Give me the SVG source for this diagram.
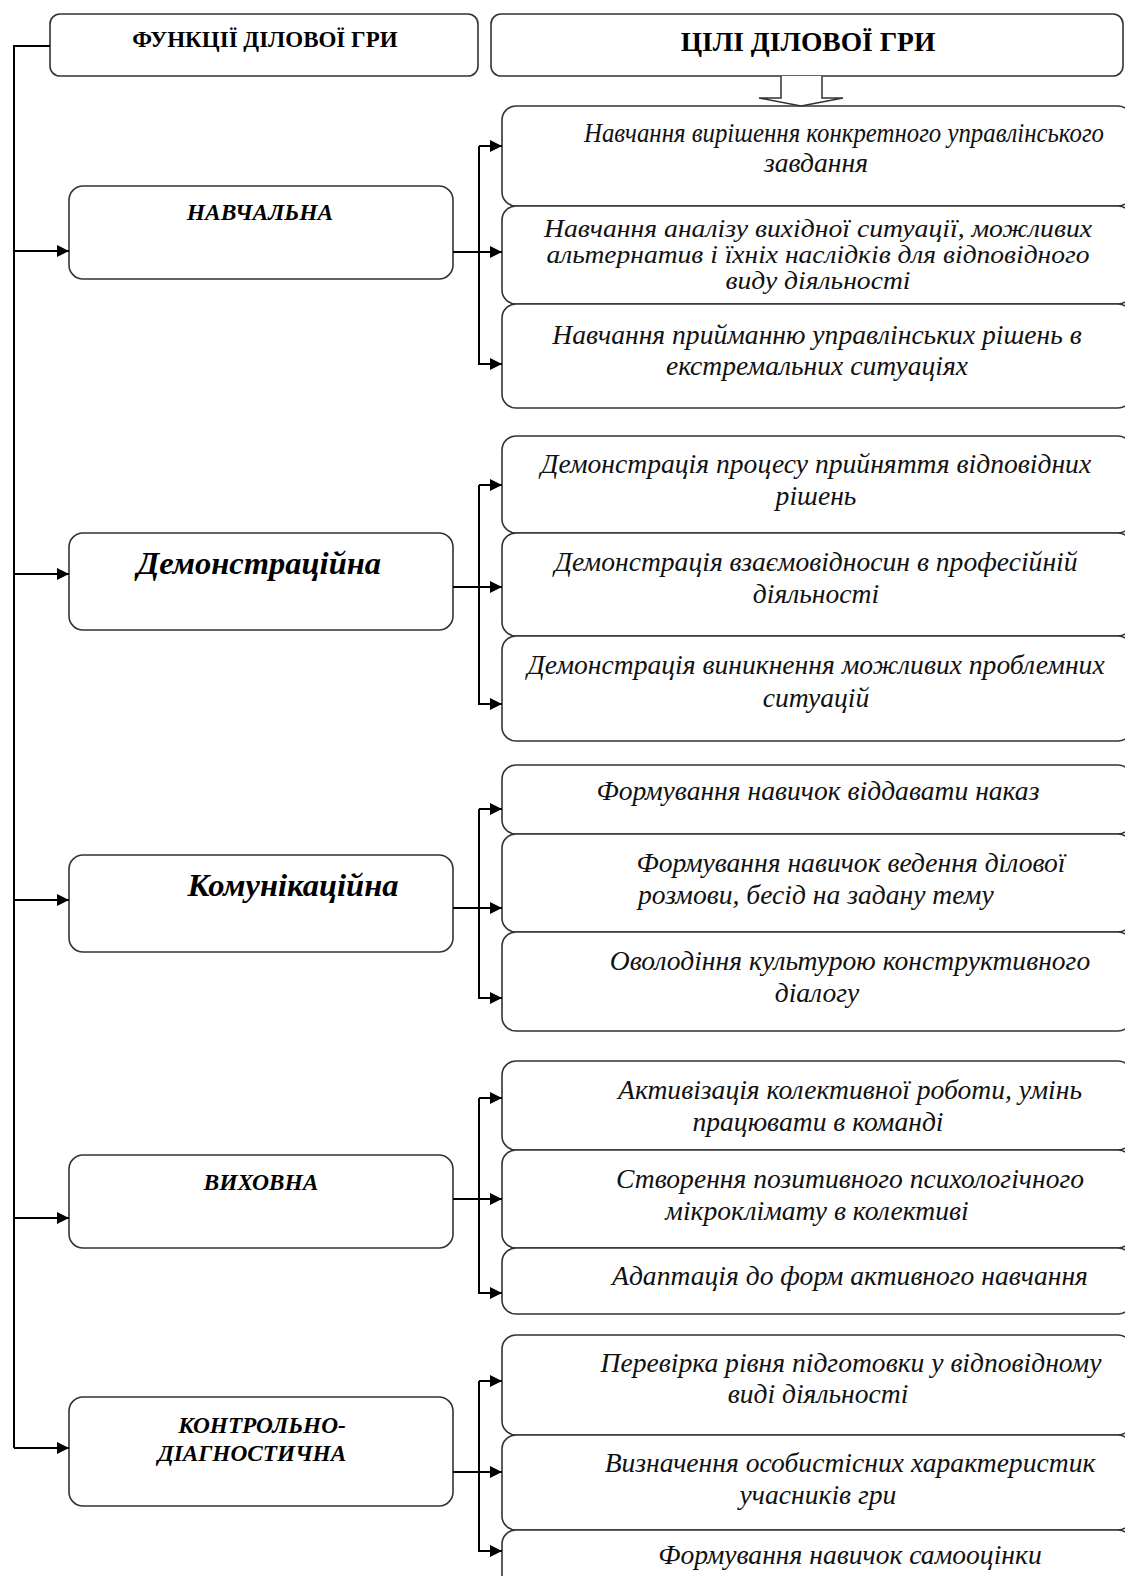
<svg xmlns="http://www.w3.org/2000/svg" width="1125" height="1576" viewBox="0 0 1125 1576">
<style>
.box{fill:#fff;stroke:#333;stroke-width:1.6}
.con{fill:none;stroke:#000;stroke-width:2}
.t{font-family:"Liberation Serif","Times New Roman",serif;font-style:italic;font-size:27.6px;fill:#111;text-anchor:middle}
.tl{text-anchor:start}
.s{font-size:25.5px}
.h{font-family:"Liberation Serif","Times New Roman",serif;font-weight:bold;fill:#000;text-anchor:middle}
.f{font-family:"Liberation Serif","Times New Roman",serif;font-weight:bold;font-style:italic;fill:#000;text-anchor:middle}
</style>
<defs>
<marker id="ah" viewBox="0 0 12 12" refX="12" refY="6" markerWidth="12" markerHeight="12" markerUnits="userSpaceOnUse" orient="auto">
<path d="M0,0 L12,6 L0,12 Z" fill="#000"/>
</marker>
</defs>
<rect width="1125" height="1576" fill="#fff"/>

<g id="header-functions">
<rect class="box" x="50" y="14" width="428" height="62" rx="10"/>
<text class="h" x="265" y="47" font-size="23">ФУНКЦІЇ ДІЛОВОЇ ГРИ</text>
</g>
<g id="header-goals">
<rect class="box" x="491" y="14" width="632" height="62" rx="10"/>
<text class="h" x="808" y="51" font-size="27.5">ЦІЛІ ДІЛОВОЇ ГРИ</text>
</g>

<g id="f1">
<rect class="box" x="69" y="186" width="384" height="93" rx="14"/>
<text class="f" x="260" y="220" font-size="23.5">НАВЧАЛЬНА</text>
</g>
<g id="f2">
<rect class="box" x="69" y="533" width="384" height="97" rx="14"/>
<text class="f" x="259" y="574" font-size="32.5">Демонстраційна</text>
</g>
<g id="f3">
<rect class="box" x="69" y="855" width="384" height="97" rx="14"/>
<text class="f" x="293" y="896" font-size="32.5">Комунікаційна</text>
</g>
<g id="f4">
<rect class="box" x="69" y="1155" width="384" height="93" rx="14"/>
<text class="f" x="261" y="1190" font-size="23.5">ВИХОВНА</text>
</g>
<g id="f5">
<rect class="box" x="69" y="1397" width="384" height="109" rx="14"/>
<text class="f" x="262" y="1433" font-size="23.3">КОНТРОЛЬНО-</text>
<text class="f" x="252" y="1461" font-size="23.3">ДІАГНОСТИЧНА</text>
</g>

<g id="g1a"><rect class="box" x="502" y="106" width="630" height="100" rx="14"/>
<text class="t" x="844" y="142" font-size="25.5" textLength="520" lengthAdjust="spacingAndGlyphs">Навчання вирішення конкретного управлінського</text>
<text class="t" x="816" y="172">завдання</text></g>
<g id="g1b"><rect class="box" x="502" y="206" width="630" height="98" rx="14"/>
<text class="t s" x="818" y="237" textLength="548" lengthAdjust="spacingAndGlyphs">Навчання аналізу вихідної ситуації, можливих</text>
<text class="t s" x="818" y="263" textLength="543" lengthAdjust="spacingAndGlyphs">альтернатив і їхніх наслідків для відповідного</text>
<text class="t s" x="818" y="289" textLength="185" lengthAdjust="spacingAndGlyphs">виду діяльності</text></g>
<g id="g1c"><rect class="box" x="502" y="304" width="630" height="104" rx="14"/>
<text class="t" x="817" y="344">Навчання прийманню управлінських рішень в</text>
<text class="t" x="817" y="375">екстремальних ситуаціях</text></g>

<g id="g2a"><rect class="box" x="502" y="436" width="630" height="97" rx="14"/>
<text class="t" x="816" y="473">Демонстрація процесу прийняття відповідних</text>
<text class="t" x="816" y="505">рішень</text></g>
<g id="g2b"><rect class="box" x="502" y="533" width="630" height="103" rx="14"/>
<text class="t" x="816" y="571">Демонстрація взаємовідносин в професійній</text>
<text class="t" x="816" y="603">діяльності</text></g>
<g id="g2c"><rect class="box" x="502" y="636" width="630" height="105" rx="14"/>
<text class="t" x="816" y="674">Демонстрація виникнення можливих проблемних</text>
<text class="t" x="816" y="707">ситуацій</text></g>

<g id="g3a"><rect class="box" x="502" y="765" width="630" height="69" rx="14"/>
<text class="t" x="818" y="800">Формування навичок віддавати наказ</text></g>
<g id="g3b"><rect class="box" x="502" y="834" width="630" height="98" rx="14"/>
<text class="t" x="851" y="872">Формування навичок ведення ділової</text>
<text class="t tl" x="638" y="904">розмови, бесід на задану тему</text></g>
<g id="g3c"><rect class="box" x="502" y="932" width="630" height="99" rx="14"/>
<text class="t" x="850" y="970">Оволодіння культурою конструктивного</text>
<text class="t" x="817" y="1002">діалогу</text></g>

<g id="g4a"><rect class="box" x="502" y="1061" width="630" height="89" rx="14"/>
<text class="t" x="850" y="1099">Активізація колективної роботи, умінь</text>
<text class="t" x="818" y="1131">працювати в команді</text></g>
<g id="g4b"><rect class="box" x="502" y="1150" width="630" height="98" rx="14"/>
<text class="t" x="850" y="1188">Створення позитивного психологічного</text>
<text class="t" x="817" y="1220">мікроклімату в колективі</text></g>
<g id="g4c"><rect class="box" x="502" y="1248" width="630" height="66" rx="14"/>
<text class="t" x="850" y="1285">Адаптація до форм активного навчання</text></g>

<g id="g5a"><rect class="box" x="502" y="1335" width="630" height="100" rx="14"/>
<text class="t" x="851" y="1372">Перевірка рівня підготовки у відповідному</text>
<text class="t" x="818" y="1403">виді діяльності</text></g>
<g id="g5b"><rect class="box" x="502" y="1435" width="630" height="95" rx="14"/>
<text class="t" x="850" y="1472">Визначення особистісних характеристик</text>
<text class="t" x="818" y="1504">учасників гри</text></g>
<g id="g5c"><rect class="box" x="502" y="1530" width="630" height="80" rx="14"/>
<text class="t" x="850" y="1564">Формування навичок самооцінки</text></g>

<g id="connectors">
<path class="con" d="M50,46 H14 V1448"/>
<path class="con" d="M14,251 H69" marker-end="url(#ah)"/>
<path class="con" d="M14,574 H69" marker-end="url(#ah)"/>
<path class="con" d="M14,900 H69" marker-end="url(#ah)"/>
<path class="con" d="M14,1218 H69" marker-end="url(#ah)"/>
<path class="con" d="M14,1448 H69" marker-end="url(#ah)"/>

<path class="con" d="M453,252 H502" marker-end="url(#ah)"/>
<path class="con" d="M479,146 V364 H502" marker-end="url(#ah)"/>
<path class="con" d="M479,146 H502" marker-end="url(#ah)"/>

<path class="con" d="M453,587 H502" marker-end="url(#ah)"/>
<path class="con" d="M479,485 V704 H502" marker-end="url(#ah)"/>
<path class="con" d="M479,485 H502" marker-end="url(#ah)"/>

<path class="con" d="M453,908 H502" marker-end="url(#ah)"/>
<path class="con" d="M479,809 V998 H502" marker-end="url(#ah)"/>
<path class="con" d="M479,809 H502" marker-end="url(#ah)"/>

<path class="con" d="M453,1199 H502" marker-end="url(#ah)"/>
<path class="con" d="M479,1098 V1293 H502" marker-end="url(#ah)"/>
<path class="con" d="M479,1098 H502" marker-end="url(#ah)"/>

<path class="con" d="M453,1472 H502" marker-end="url(#ah)"/>
<path class="con" d="M479,1381 V1551 H502" marker-end="url(#ah)"/>
<path class="con" d="M479,1381 H502" marker-end="url(#ah)"/>

<path d="M781,76 V98 H759 L801,106 L843,98 H822 V76" fill="#fff" stroke="#333" stroke-width="1.5"/>
</g>
</svg>
